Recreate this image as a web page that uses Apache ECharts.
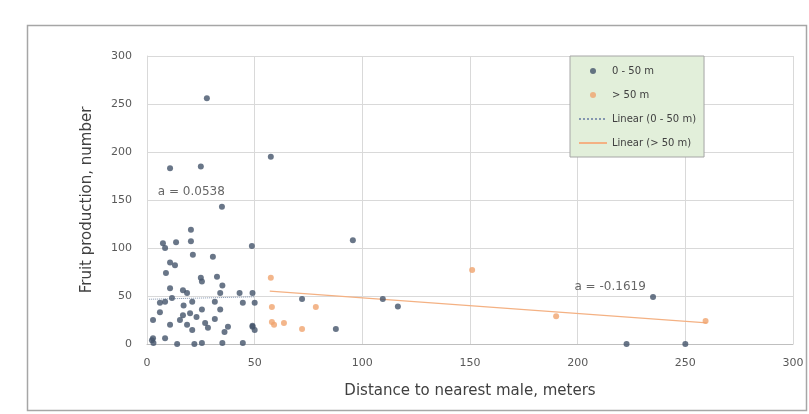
<!DOCTYPE html>
<html>
<head>
<meta charset="utf-8">
<script src="https://cdn.jsdelivr.net/npm/echarts@6/dist/echarts.min.js"></script>
<style>
  html, body { margin: 0; padding: 0; background: #fff; }
  #chart { width: 809px; height: 414px; }
</style>
</head>
<body>
<div id="chart"></div>
<script>
// 0 - 50 m group (distance, fruit count)
const nearX = [27.8, 10.7, 25, 34.8, 57.5, 95.6, 48.7, 235, 222.7, 250, 87.7, 116.5, 109.5, 72,
  20.4, 20.4, 7.4, 8.4, 13.5, 21.3, 30.6, 10.7, 13, 8.8, 25, 25.5, 32.5, 35, 10.7, 16.7, 18.6,
  34, 43, 49, 6, 8.4, 11.6, 21, 31.5, 44.5, 50, 25.5, 34, 6, 16.7, 15.3, 20, 2.8, 31.5, 10.7,
  18.6, 21, 28.3, 37.6, 36, 49, 50, 2.8, 2.3, 8.4, 14, 22, 25.5, 35, 44.5, 3, 49, 17, 23, 27];
const nearY = [256, 183, 185, 143, 195, 108, 102, 49, 0, 0, 15.6, 39, 47, 47,
  119, 107, 105, 100, 106, 93, 91, 85, 82, 74, 69, 65, 70, 61, 58, 56, 53,
  53, 53, 53, 43, 44, 48, 44, 44, 43, 43, 36, 36, 33, 30, 25, 32, 25, 26, 20,
  20, 14.6, 17, 18, 12.5, 18, 14.6, 6, 4, 6, 0, 0, 1, 1, 1, 1, 19, 40, 28, 22];

// > 50 m group
const farX = [57.5, 58, 78.4, 58, 59, 63.6, 72, 151, 190, 259.4];
const farY = [69, 38.5, 38.5, 23, 20, 22, 15.6, 77, 29, 24];

// trend lines, end points
const trendNear = [[1, 46.6], [50, 49.2]];
const trendFar = [[57, 55], [260, 22.1]];
const trendLabels = [
  { pos: [5, 158], text: 'a = 0.0538' },
  { pos: [198.5, 60], text: 'a = -0.1619' }
];

const axisTicks = [0, 50, 100, 150, 200, 250, 300];

const zip = (xs, ys) => xs.map((x, i) => [x, ys[i]]);

const chart = echarts.init(document.getElementById('chart'));

const FONT = 'DejaVu Sans';

const axisCommon = {
  type: 'value',
  min: axisTicks[0],
  max: axisTicks[axisTicks.length - 1],
  interval: 50,
  axisTick: { show: false },
  axisLabel: { color: '#595959', fontSize: 11, fontFamily: FONT },
  splitLine: { lineStyle: { color: '#d9d9d9', width: 1 } },
  nameLocation: 'middle',
  nameTextStyle: { color: '#404040', fontSize: 15, fontFamily: FONT }
};

chart.setOption({
  animation: false,
  backgroundColor: '#fff',
  graphic: [{
    type: 'rect',
    shape: { x: 27.5, y: 25.5, width: 779, height: 385 },
    style: { fill: 'none', stroke: '#a6a6a6', lineWidth: 1.5 },
    z: -1
  }],
  grid: { left: 147, right: 16, top: 56, bottom: 70 },
  legend: {
    orient: 'vertical',
    left: 570,
    top: 56,
    backgroundColor: '#e2efda',
    borderColor: '#a6a6a6',
    borderWidth: 1,
    padding: [10, 8, 9, 8],
    itemGap: 14,
    itemWidth: 28,
    itemHeight: 6,
    textStyle: { color: '#404040', fontSize: 10, fontFamily: FONT },
    data: [
      '0 - 50 m',
      '> 50 m',
      { name: 'Linear (0 - 50 m)', itemStyle: { opacity: 0 } },
      { name: 'Linear (> 50 m)', itemStyle: { opacity: 0 } }
    ]
  },
  xAxis: Object.assign({}, axisCommon, {
    name: 'Distance to nearest male, meters',
    nameGap: 40,
    axisLine: { show: true, lineStyle: { color: '#bfbfbf' } },
    axisLabel: Object.assign({}, axisCommon.axisLabel, { margin: 14 })
  }),
  yAxis: Object.assign({}, axisCommon, {
    name: 'Fruit production, number',
    nameGap: 52,
    axisLine: { show: true, lineStyle: { color: '#d9d9d9' } },
    axisLabel: Object.assign({}, axisCommon.axisLabel, { margin: 15 })
  }),
  series: [
    {
      name: '0 - 50 m',
      type: 'scatter',
      symbolSize: 6,
      itemStyle: { color: '#44546a' },
      data: zip(nearX, nearY),
      z: 3
    },
    {
      name: '> 50 m',
      type: 'scatter',
      symbolSize: 6,
      itemStyle: { color: '#f0a46e' },
      data: zip(farX, farY),
      z: 3
    },
    {
      name: 'Linear (0 - 50 m)',
      type: 'line',
      symbol: 'none',
      lineStyle: { color: '#8496b0', width: 1, type: 'dotted' },
      itemStyle: { color: '#8496b0' },
      data: trendNear,
      z: 2
    },
    {
      name: 'Linear (> 50 m)',
      type: 'line',
      symbol: 'none',
      lineStyle: { color: '#f4b183', width: 1.2 },
      itemStyle: { color: '#f4b183' },
      data: trendFar,
      z: 2
    },
    {
      name: 'labels',
      type: 'scatter',
      symbolSize: 0,
      silent: true,
      data: trendLabels.map(d => ({ value: d.pos, text: d.text })),
      label: {
        show: true,
        position: 'right',
        distance: 0,
        color: '#404040',
        fontSize: 12,
        fontFamily: FONT,
        formatter: p => p.data.text
      },
      z: 4
    }
  ]
});
</script>
</body>
</html>
